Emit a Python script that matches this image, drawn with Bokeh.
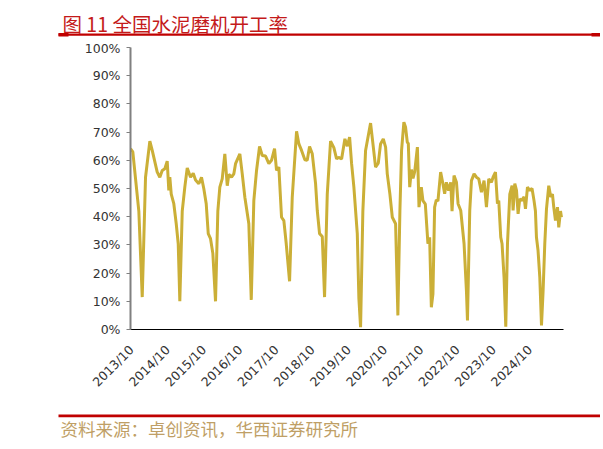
import math
from bokeh.plotting import figure
from bokeh.layouts import column
from bokeh.models import FixedTicker, Label, BoxAnnotation, Range1d
from bokeh.embed import file_html
from bokeh.resources import INLINE

# ---- data (decimal year, %) ----
dates = [2013.722, 2013.786, 2013.952, 2014.046, 2014.137, 2014.256, 2014.322, 2014.460, 2014.532, 2014.598,
         2014.670, 2014.736, 2014.780, 2014.808, 2014.847, 2014.918, 2014.985, 2015.040, 2015.084, 2015.151,
         2015.222, 2015.289, 2015.380, 2015.454, 2015.518, 2015.609, 2015.683, 2015.747, 2015.813, 2015.869,
         2015.932, 2015.996, 2016.070, 2016.134, 2016.189, 2016.255, 2016.327, 2016.394, 2016.438, 2016.512,
         2016.576, 2016.623, 2016.742, 2016.808, 2016.880, 2016.990, 2017.057, 2017.128, 2017.203, 2017.286,
         2017.360, 2017.452, 2017.543, 2017.617, 2017.700, 2017.755, 2017.819, 2017.893, 2017.957, 2018.023,
         2018.115, 2018.189, 2018.308, 2018.372, 2018.446, 2018.537, 2018.603, 2018.667, 2018.742, 2018.833,
         2018.880, 2018.943, 2019.018, 2019.081, 2019.156, 2019.247, 2019.338, 2019.413, 2019.468, 2019.552,
         2019.643, 2019.709, 2019.773, 2019.828, 2019.891, 2019.985, 2020.029, 2020.076, 2020.139, 2020.214,
         2020.352, 2020.416, 2020.490, 2020.565, 2020.628, 2020.703, 2020.767, 2020.813, 2020.885, 2020.952,
         2021.043, 2021.106, 2021.162, 2021.208, 2021.272, 2021.319, 2021.366, 2021.394, 2021.433, 2021.480,
         2021.524, 2021.571, 2021.645, 2021.689, 2021.753, 2021.798, 2021.864, 2021.936, 2021.983, 2022.030,
         2022.074, 2022.121, 2022.168, 2022.212, 2022.287, 2022.351, 2022.398, 2022.445, 2022.508, 2022.566,
         2022.602, 2022.657, 2022.724, 2022.768, 2022.842, 2022.934, 2023.000, 2023.028, 2023.091, 2023.138,
         2023.210, 2023.276, 2023.340, 2023.414, 2023.486, 2023.552, 2023.616, 2023.690, 2023.735, 2023.801,
         2023.856, 2023.892, 2023.947, 2023.983, 2024.038, 2024.086, 2024.133, 2024.197, 2024.260, 2024.288,
         2024.335, 2024.382, 2024.426, 2024.472, 2024.519, 2024.591, 2024.630, 2024.685, 2024.748, 2024.811,
         2024.866, 2024.905, 2024.933, 2024.977, 2025.025, 2025.072, 2025.116, 2025.163, 2025.210, 2025.273,
         2025.328, 2025.375, 2025.411, 2025.458, 2025.514, 2025.549, 2025.597, 2025.624]
rate = [64.1, 63.0, 42.0, 11.5, 54.0, 66.8, 63.5, 55.8, 54.0, 56.4,
        57.0, 59.7, 49.3, 54.0, 48.0, 44.6, 37.5, 30.4, 10.0, 42.0,
        50.5, 57.3, 54.0, 55.4, 53.0, 51.7, 54.0, 49.9, 44.6, 34.0,
        32.2, 27.0, 10.0, 42.0, 50.5, 53.4, 62.3, 51.0, 55.0, 54.0,
        55.2, 58.8, 62.3, 55.2, 46.9, 37.5, 10.5, 45.7, 56.4, 64.9,
        61.7, 61.5, 58.8, 60.0, 64.1, 56.4, 57.6, 39.8, 38.6, 30.4,
        17.1, 46.9, 70.3, 65.8, 63.5, 60.2, 60.0, 64.9, 62.3, 51.7,
        42.2, 34.0, 33.0, 11.5, 48.0, 66.8, 64.5, 60.5, 61.0, 60.5,
        67.6, 65.0, 68.2, 58.8, 50.5, 34.0, 11.0, 0.8, 42.0, 63.5,
        73.2, 66.0, 57.6, 59.0, 65.8, 67.6, 64.7, 55.2, 48.1, 39.8,
        37.5, 5.0, 42.0, 63.5, 73.5, 71.7, 66.4, 66.0, 50.5, 56.7,
        53.6, 56.0, 64.7, 43.4, 50.5, 45.7, 44.5, 30.4, 32.7, 7.9,
        12.6, 43.4, 46.0, 45.5, 55.8, 51.6, 48.1, 52.2, 49.3, 52.2,
        42.0, 54.6, 52.2, 44.6, 42.2, 30.4, 13.5, 3.2, 42.2, 52.8,
        55.2, 54.0, 53.4, 48.7, 52.8, 43.4, 53.4, 52.2, 54.0, 55.8,
        44.6, 45.7, 32.7, 30.4, 18.6, 1.0, 30.4, 48.0, 51.0, 42.2,
        51.7, 49.3, 41.0, 46.3, 45.7, 47.0, 42.8, 50.5, 49.3, 50.0,
        45.7, 42.0, 32.7, 28.0, 18.6, 1.4, 13.5, 30.4, 42.8, 51.0,
        47.0, 48.0, 43.4, 38.6, 43.4, 36.2, 42.0, 39.8]

x_tick_pos = [2013.75, 2014.75, 2015.75, 2016.75, 2017.75, 2018.75,
              2019.75, 2020.75, 2021.75, 2022.75, 2023.75, 2024.75]
x_tick_labels = ["2013/10", "2014/10", "2015/10", "2016/10", "2017/10", "2018/10",
                 "2019/10", "2020/10", "2021/10", "2022/10", "2023/10", "2024/10"]
y_tick_pos = [0, 10, 20, 30, 40, 50, 60, 70, 80, 90, 100]
y_tick_labels = ["0%", "10%", "20%", "30%", "40%", "50%", "60%", "70%", "80%", "90%", "100%"]

title_text = "图 11 全国水泥磨机开工率"
source_text = "资料来源：卓创资讯，华西证券研究所"

LINE_COLOR = "#CBAF37"
RED = "#C00000"
W = 600


def deco_figure(h):
    f = figure(width=W, height=h, output_backend="svg", toolbar_location=None,
               x_axis_type=None, y_axis_type=None, min_border=0,
               x_range=Range1d(0, 1), y_range=Range1d(0, 1),
               background_fill_color="white", border_fill_color="white")
    f.outline_line_color = None
    f.frame_align = False
    return f


def screen_box(left, right, bottom, top):
    return BoxAnnotation(left=left, right=right, bottom=bottom, top=top,
                         left_units="screen", right_units="screen",
                         bottom_units="screen", top_units="screen",
                         fill_color=RED, fill_alpha=1, line_color=None)


# ---- header: title + red rule ----
header = deco_figure(40)
header.add_layout(Label(x=62, y=17, x_units="screen", y_units="screen", text=title_text,
                        text_color="#C41A1A", text_font="Noto Sans CJK SC", text_font_size="19.5px",
                        text_baseline="middle", text_align="left"))
header.add_layout(screen_box(58, 600, 4.7, 7))
header.add_layout(screen_box(58, 68, 4, 7.5))
header.add_layout(screen_box(591, 600, 4, 7.5))

# ---- main chart ----
p = figure(width=W, height=371, output_backend="svg", toolbar_location=None,
           x_range=Range1d(2013.722, 2025.68), y_range=Range1d(0, 100),
           min_border_left=130, min_border_right=37, min_border_top=7, min_border_bottom=82,
           background_fill_color="white", border_fill_color="white")
p.outline_line_color = None
p.grid.visible = False
p.frame_align = False

p.line(dates, rate, line_color=LINE_COLOR, line_width=3)

xa = p.xaxis[0]
xa.ticker = FixedTicker(ticks=x_tick_pos, minor_ticks=[])
xa.major_label_overrides = {k: v for k, v in zip(x_tick_pos, x_tick_labels)}
xa.major_label_orientation = math.pi / 4
xa.major_tick_out = 0
xa.major_tick_in = 0
xa.minor_tick_out = 0
xa.minor_tick_in = 0
xa.axis_line_color = "black"
xa.axis_line_width = 1
xa.major_label_standoff = 18
xa.major_label_text_font = "DejaVu Sans"
xa.major_label_text_font_size = "12.5px"
xa.major_label_text_color = "#333333"

ya = p.yaxis[0]
ya.ticker = FixedTicker(ticks=y_tick_pos, minor_ticks=[])
ya.major_label_overrides = {k: v for k, v in zip(y_tick_pos, y_tick_labels)}
ya.axis_line_color = "#808080"
ya.axis_line_width = 2
ya.major_tick_line_color = "#808080"
ya.major_tick_out = 4
ya.major_tick_in = 0
ya.minor_tick_out = 0
ya.minor_tick_in = 0
ya.major_label_standoff = 6
ya.major_label_text_font = "DejaVu Sans"
ya.major_label_text_font_size = "12.5px"
ya.major_label_text_color = "#333333"

# ---- footer: red rule + source ----
footer = deco_figure(37)
footer.add_layout(screen_box(58, 600, 31.3, 34))
footer.add_layout(Label(x=60, y=20, x_units="screen", y_units="screen", text=source_text,
                        text_color="#BF9F66", text_font="Noto Sans CJK SC", text_font_size="17.5px",
                        text_baseline="middle", text_align="left"))

layout = column(header, p, footer, spacing=0)
open("out.html", "w").write(file_html(layout, INLINE))
